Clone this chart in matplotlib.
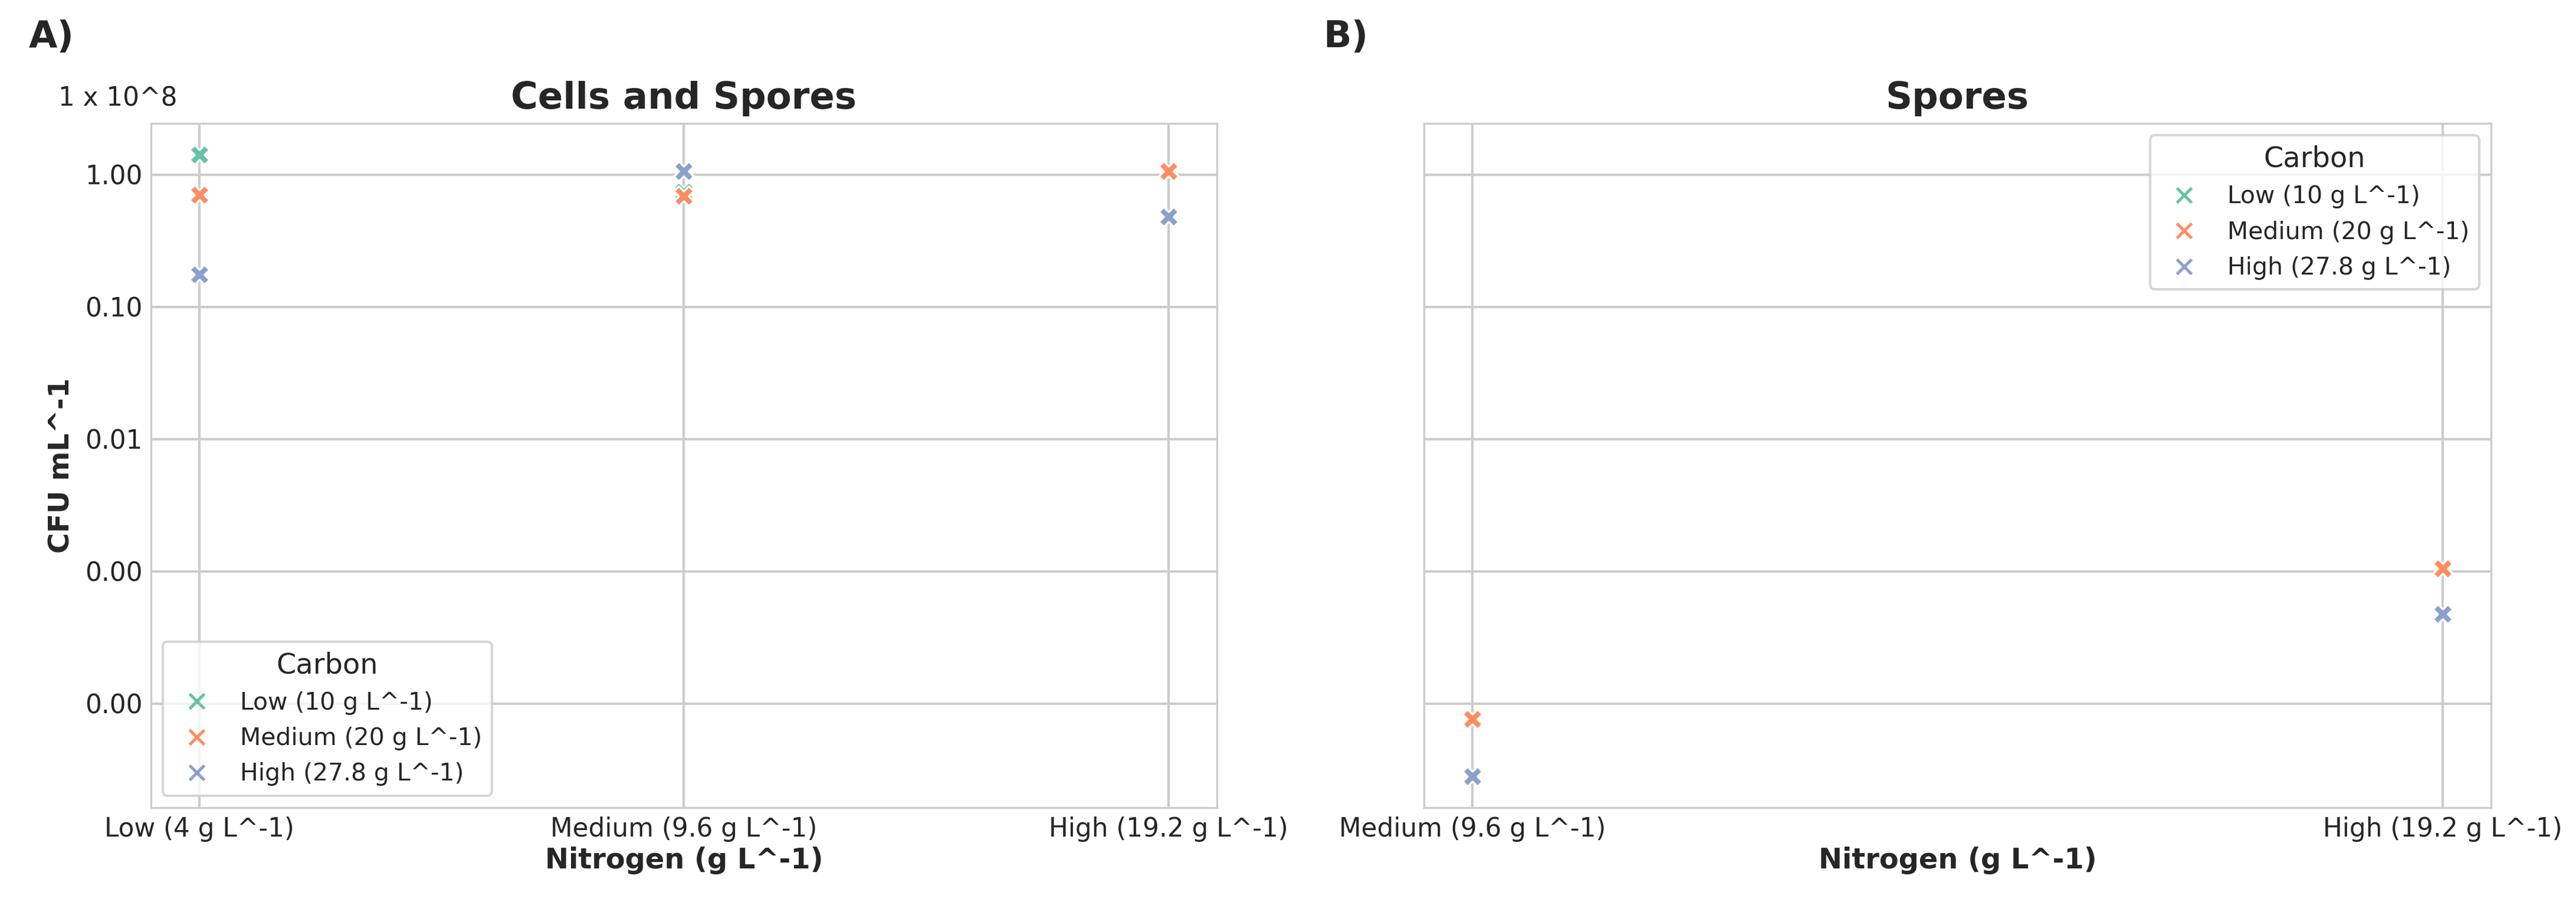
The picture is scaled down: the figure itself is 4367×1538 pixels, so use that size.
import numpy as np
import matplotlib
matplotlib.use("Agg")
import matplotlib.pyplot as plt
from matplotlib.lines import Line2D
import seaborn as sns

# values in units of 1 x 10^8 CFU mL^-1
carbon_levels = ["Low (10 g L^-1)", "Medium (20 g L^-1)", "High (27.8 g L^-1)"]
nitrogen_all = ["Low (4 g L^-1)", "Medium (9.6 g L^-1)", "High (19.2 g L^-1)"]
nitrogen_spores = ["Medium (9.6 g L^-1)", "High (19.2 g L^-1)"]

# cells and spores, one list per carbon level (order = nitrogen_all)
total_low_c = [1.42, 0.74, np.nan]
total_med_c = [0.705, 0.69, 1.06]
total_high_c = [0.176, 1.06, 0.48]

# spores only (order = nitrogen_spores)
spores_low_c = [np.nan, np.nan]
spores_med_c = [7.6e-5, 1.05e-3]
spores_high_c = [2.8e-5, 4.77e-4]

ytick_vals = [1, 0.1, 0.01, 0.001, 0.0001]

sns.set_style("whitegrid")
palette = sns.color_palette("Set2", 3)

fig = plt.figure(figsize=(14.557, 5.127), dpi=300)
ax1 = fig.add_axes([0.0586, 0.1105, 0.4138, 0.7536])
ax2 = fig.add_axes([0.5528, 0.1105, 0.4142, 0.7536], sharey=ax1)

def draw(ax, cats, series, title):
    x = np.arange(len(cats))
    for vals, col in zip(series, palette):
        ax.scatter(x, vals, marker="X", s=65, color=col, edgecolor="white", linewidth=0.8, zorder=3)
    ax.set_xticks(x)
    ax.set_xticklabels(cats, fontsize=10.5)
    ax.set_title(title, fontsize=15, fontweight="bold")
    ax.set_xlabel("Nitrogen (g L^-1)", fontsize=11.5, fontweight="bold", labelpad=2)
    ax.grid(True, linewidth=1)
    ax.tick_params(length=0)
    handles = [Line2D([], [], marker="x", linestyle="", color=c, markersize=6, markeredgewidth=1.2) for c in palette]
    return handles

h = draw(ax1, nitrogen_all, [total_low_c, total_med_c, total_high_c], "Cells and Spores")
draw(ax2, nitrogen_spores, [spores_low_c, spores_med_c, spores_high_c], "Spores")

ax1.set_yscale("log")
ax1.yaxis.set_major_locator(matplotlib.ticker.FixedLocator(ytick_vals))
ax1.yaxis.set_minor_locator(matplotlib.ticker.NullLocator())
ax1.yaxis.set_major_formatter(matplotlib.ticker.FormatStrFormatter("%.2f"))
ax1.tick_params(axis="y", labelsize=10.5)
ax2.tick_params(axis="y", labelleft=False)
ax1.set_ylabel("CFU mL^-1", fontsize=11.5, fontweight="bold")

ax1.legend(h, carbon_levels, title="Carbon", loc="lower left", fontsize=9.8, title_fontsize=11.5, frameon=True)
ax2.legend(h, carbon_levels, title="Carbon", loc="upper right", fontsize=9.8, title_fontsize=11.5, frameon=True)

fig.text(0.0227, 0.8914, "1 x 10^8", fontsize=10.5, va="center", ha="left", color=".15")
fig.text(0.0112, 0.948, "A)", fontsize=15, fontweight="bold", va="baseline")
fig.text(0.5136, 0.948, "B)", fontsize=15, fontweight="bold", va="baseline")

plt.savefig("out.png", dpi=300)
